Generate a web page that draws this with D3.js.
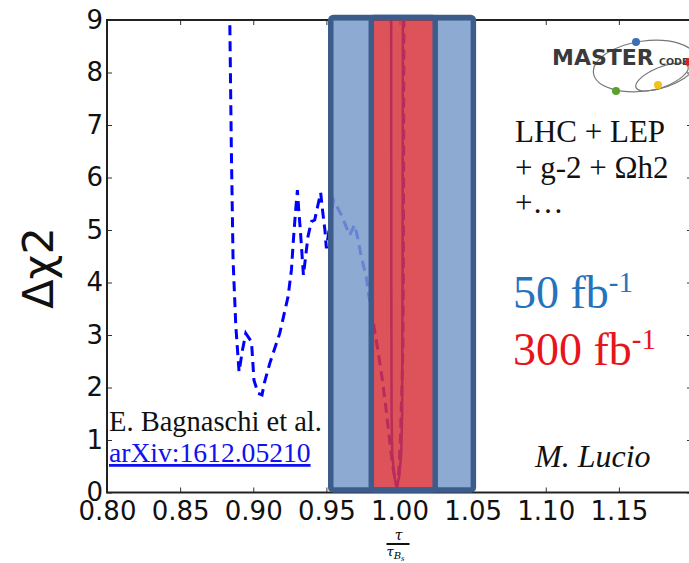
<!DOCTYPE html>
<html>
<head>
<meta charset="utf-8">
<script src="https://cdn.jsdelivr.net/npm/d3@7"></script>
<style>
    html, body { margin: 0; padding: 0; background: #fff; }
    svg { display: block; }
</style>
</head>
<body>
<div id="chart"></div>
<script>
//Colores fijos
const COLOR_CURVE = '#0000ff',
COLOR_BAND_50 = '#789bca',
COLOR_BAND_300 = '#d8343c',
COLOR_BAND_EDGE = '#3c5d8c',
COLOR_TEXT_50 = '#2673bd',
COLOR_TEXT_300 = '#e8141c',
COLOR_LINK = '#1010f0';

//Datos: perfil Δχ2 frente a τ/τBs
const tauRatio50 = [0.8840, 0.8850, 0.8862, 0.8881, 0.8903, 0.8926, 0.8949, 0.8988, 0.9005, 0.9033,
    0.9060, 0.9078, 0.9113, 0.9181, 0.9238, 0.9261, 0.9276, 0.9290, 0.9302, 0.9311,
    0.9322, 0.9336, 0.9343, 0.9358, 0.9374, 0.9397, 0.9420, 0.9445, 0.9461, 0.9476,
    0.9490, 0.9500, 0.9549, 0.9602, 0.9659, 0.9693, 0.9715, 0.9739, 0.9773, 0.9784,
    0.9818, 0.9841, 0.9863, 0.9886, 0.9909, 0.9932, 0.9954, 0.9973, 0.9982, 0.9995,
    1.0005, 1.0012, 1.0018, 1.0023, 1.0026, 1.0028, 1.0030];
const chi2_50 = [8.9, 6.6, 4.43, 3.16, 2.30, 2.71, 3.03, 2.87, 2.14, 1.89,
    1.86, 2.11, 2.46, 3.03, 3.73, 4.24, 4.87, 5.38, 5.76, 5.38,
    5.0, 4.43, 4.14, 4.49, 4.87, 5.16, 5.19, 5.51, 5.71, 5.32,
    5.0, 4.65, 5.57, 5.29, 4.9, 5.1, 4.84, 4.49, 4.11, 3.86,
    3.29, 2.9, 2.52, 2.08, 1.57, 1.0, 0.49, 0.21, 0.11, 0.37,
    0.94, 1.57, 2.2, 2.71, 4.0, 6.0, 9.0];

const tauRatioFit = [0.9943, 0.9944, 0.9946, 0.9950, 0.9965, 0.9981, 0.9998, 1.0012, 1.0018, 1.0021, 1.0023];
const chi2Fit = [9.0, 4.0, 1.5, 0.75, 0.3, 0.1, 0.3, 0.75, 1.5, 4.0, 9.0];

//Bandas de sensibilidad (50 fb-1 y 300 fb-1)
const band50 = [0.953, 1.0505];
const band300 = [0.9807, 1.0244];
const bandChi2 = [0.05, 9.05];

//Ticks
const xTicks = [0.80, 0.85, 0.90, 0.95, 1.00, 1.05, 1.10, 1.15];
const yTicks = [0, 1, 2, 3, 4, 5, 6, 7, 8, 9];

let margin = {top: 20, right: -3, bottom: 70.5, left: 107},
    fullWidth = 689, fullHeight = 563,
    width = fullWidth - margin.left - margin.right,
    height = fullHeight - margin.top - margin.bottom;

let svg = d3.select('#chart')
    .append('svg')
        .attr('width', fullWidth)
        .attr('height', fullHeight);

svg.append('rect')
    .attr('width', fullWidth)
    .attr('height', fullHeight)
    .attr('fill', '#fff');

let chart = svg.append('g')
    .attr('transform', 'translate(' + margin.left + ',' + margin.top + ')');

//Escalas
let x = d3.scaleLinear()
    .domain([0.80, 1.20])
    .range([0, width]);

let y = d3.scaleLinear()
    .domain([0, 9])
    .range([height, 0]);

//Ejes (ticks hacia dentro, estilo matplotlib)
function styleAxis(g, labels) {
    g.select('.domain').remove();
    g.selectAll('.tick line').attr('stroke', '#333').attr('stroke-width', 1);
    g.selectAll('.tick text')
        .attr('fill', '#111')
        .style('font-family', '"DejaVu Sans", sans-serif')
        .style('font-size', '26px');
    if (!labels) g.selectAll('.tick text').remove();
}

chart.append('g')
    .attr('transform', 'translate(0,' + height + ')')
    .call(d3.axisBottom(x).tickValues(xTicks).tickSize(-5).tickPadding(9).tickFormat(d3.format('.2f')))
    .call(styleAxis, true);

chart.append('g')
    .call(d3.axisTop(x).tickValues(xTicks).tickSize(-5))
    .call(styleAxis, false);

chart.append('g')
    .call(d3.axisLeft(y).tickValues(yTicks).tickSize(-5).tickPadding(4).tickFormat(d3.format('d')))
    .call(styleAxis, true);

chart.append('g')
    .attr('transform', 'translate(' + width + ',0)')
    .call(d3.axisRight(y).tickValues(yTicks).tickSize(-5))
    .call(styleAxis, false);

//Marco
chart.append('rect')
    .attr('x', 0)
    .attr('y', 0)
    .attr('width', width)
    .attr('height', height)
    .attr('fill', 'none')
    .attr('stroke', '#222')
    .attr('stroke-width', 2);

//Curvas
let line = d3.line()
    .x(function(d) { return x(d[0]); })
    .y(function(d) { return y(d[1]); });

chart.append('path')
    .datum(d3.zip(tauRatioFit, chi2Fit))
    .attr('d', line)
    .attr('fill', 'none')
    .attr('stroke', COLOR_CURVE)
    .attr('stroke-width', 2.5);

chart.append('path')
    .datum(d3.zip(tauRatio50, chi2_50))
    .attr('d', line)
    .attr('fill', 'none')
    .attr('stroke', COLOR_CURVE)
    .attr('stroke-width', 3)
    .attr('stroke-dasharray', '10,6');

//Bandas superpuestas: rellenos sin solaparse y después los bordes
let bandTop = y(bandChi2[1]),
    bandHeight = y(bandChi2[0]) - y(bandChi2[1]);

let fills = [
    {from: band50[0], to: band300[0], color: COLOR_BAND_50},
    {from: band300[1], to: band50[1], color: COLOR_BAND_50},
    {from: band300[0], to: band300[1], color: COLOR_BAND_300}
];

chart.append('g')
    .selectAll('rect')
    .data(fills)
    .enter()
    .append('rect')
        .attr('x', function(d) { return x(d.from); })
        .attr('y', bandTop)
        .attr('width', function(d) { return x(d.to) - x(d.from); })
        .attr('height', bandHeight)
        .attr('fill', function(d) { return d.color; })
        .attr('fill-opacity', 0.85);

chart.append('g')
    .selectAll('rect')
    .data([band50, band300])
    .enter()
    .append('rect')
        .attr('x', function(d) { return x(d[0]); })
        .attr('y', bandTop)
        .attr('width', function(d) { return x(d[1]) - x(d[0]); })
        .attr('height', bandHeight)
        .attr('rx', 2.5)
        .attr('fill', 'none')
        .attr('stroke', COLOR_BAND_EDGE)
        .attr('stroke-width', 5.5);

//Título eje Y
svg.append('text')
    .attr('transform', 'translate(53,268) rotate(-90)')
    .attr('text-anchor', 'middle')
    .style('font-family', '"DejaVu Sans", sans-serif')
    .style('font-size', '43px')
    .attr('fill', '#111')
    .text('Δχ2');

//Título eje X (fracción τ / τBs)
let cx = margin.left + width / 2;
let xTitle = svg.append('g').attr('transform', 'translate(' + (cx - 1) + ',0)');
xTitle.append('text')
    .attr('x', 0).attr('y', 540)
    .attr('text-anchor', 'middle')
    .style('font-family', '"DejaVu Serif", serif')
    .style('font-style', 'italic')
    .style('font-size', '14px')
    .text('τ');
xTitle.append('line')
    .attr('x1', -12).attr('x2', 11)
    .attr('y1', 544).attr('y2', 544)
    .attr('stroke', '#111').attr('stroke-width', 2);
let den = xTitle.append('text')
    .attr('x', -12).attr('y', 556)
    .style('font-family', '"DejaVu Serif", serif')
    .style('font-style', 'italic')
    .style('font-size', '13px')
    .text('τ');
den.append('tspan').attr('dy', 3).style('font-size', '10px').text('B');
den.append('tspan').attr('dy', 2).style('font-size', '7px').text('s');

//Textos
let serif = '"Liberation Serif", "Times New Roman", serif';

svg.append('text')
    .attr('x', 109).attr('y', 431)
    .style('font-family', serif).style('font-size', '28.5px')
    .attr('fill', '#111')
    .text('E. Bagnaschi et al.');

svg.append('text')
    .attr('x', 109).attr('y', 462)
    .style('font-family', serif).style('font-size', '27.6px')
    .style('text-decoration', 'underline')
    .attr('fill', COLOR_LINK)
    .text('arXiv:1612.05210');

['LHC + LEP', '+ g-2 + Ωh2', '+…'].forEach(function(t, i) {
    svg.append('text')
        .attr('x', 515).attr('y', 142 + i * 35.5)
        .style('font-family', serif).style('font-size', '31px')
        .attr('fill', '#111')
        .text(t);
});

function lumiLabel(txt, yPos, color) {
    let t = svg.append('text')
        .attr('x', 513).attr('y', yPos)
        .style('font-family', serif).style('font-size', '46px')
        .attr('fill', color)
        .text(txt);
    t.append('tspan').attr('dy', -16).style('font-size', '29px').text('-1');
}
lumiLabel('50 fb', 308, COLOR_TEXT_50);
lumiLabel('300 fb', 365, COLOR_TEXT_300);

svg.append('text')
    .attr('x', 535).attr('y', 467)
    .style('font-family', serif).style('font-size', '32px')
    .style('font-style', 'italic')
    .attr('fill', '#111')
    .text('M. Lucio');

//Logo MasterCode
let logo = svg.append('g');
logo.append('ellipse')
    .attr('cx', 645).attr('cy', 66).attr('rx', 52).attr('ry', 25)
    .attr('transform', 'rotate(-8,645,66)')
    .attr('fill', 'none').attr('stroke', '#777').attr('stroke-width', 1.2);
logo.append('ellipse')
    .attr('cx', 662).attr('cy', 77).attr('rx', 28).attr('ry', 10)
    .attr('transform', 'rotate(-22,662,77)')
    .attr('fill', 'none').attr('stroke', '#777').attr('stroke-width', 1.2);
logo.append('text')
    .attr('x', 552).attr('y', 65)
    .style('font-family', '"DejaVu Sans", sans-serif')
    .style('font-weight', 'bold')
    .style('font-size', '22px')
    .attr('fill', '#3a3a3a')
    .text('MASTER');
logo.append('text')
    .attr('x', 659).attr('y', 65)
    .style('font-family', '"DejaVu Sans", sans-serif')
    .style('font-weight', 'bold')
    .style('font-size', '9.5px')
    .attr('fill', '#3a3a3a')
    .text('CODE');
[[636, 42, '#3b6fb6'], [616, 91, '#5aa02c'], [658, 85, '#f2c21a'], [689, 62, '#e02020']].forEach(function(p) {
    logo.append('circle')
        .attr('cx', p[0]).attr('cy', p[1]).attr('r', 4)
        .attr('fill', p[2]);
});
</script>
</body>
</html>
